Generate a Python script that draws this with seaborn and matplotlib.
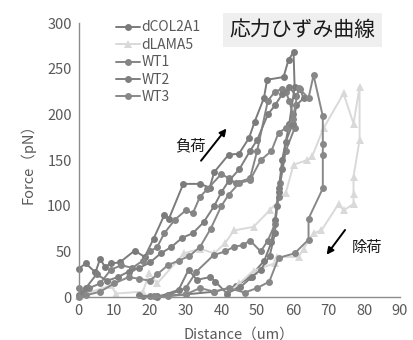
import numpy as np
import pandas as pd
import matplotlib
matplotlib.use("Agg")
from matplotlib import pyplot as plt
import seaborn as sns

# -------------- datos (distancia en um, fuerza en pN)

dcol2a1_x = [0, 2, 4.7, 6, 7.4, 9, 11.5, 15.7, 18.5, 21, 24, 25.3, 29.3, 34, 36.7, 38, 42, 44.9,
             47.7, 49.3, 51.9, 52.8, 57.4, 58.8, 60.2, 60.5, 59, 57, 56, 55, 54, 52, 48, 44, 38, 30, 22, 18]
dcol2a1_y = [31, 37, 27, 42, 33, 37, 38, 51, 44, 64, 90, 86, 124, 124, 120, 137, 156, 157,
             174, 192, 218, 238, 241, 260, 268, 230, 190, 150, 115, 85, 60, 40, 22, 12, 6, 3, 1, 1]

dlama5_x = [0, 9, 10.4, 18, 19.7, 22, 29.5, 34, 38, 41, 43.5, 49, 53.5, 58, 60.2, 64, 65.4, 68.6,
            74.2, 77, 78.7, 78.7, 77, 77, 77, 74.2, 72.8, 68, 65.8, 63, 61.6, 55.6, 54.9, 49, 45, 41.6]
dlama5_y = [1, 13, 4, 6, 26, 15, 48, 53, 48, 59, 73, 77, 95, 114, 145, 150, 154, 185,
            223, 190, 230, 172, 132, 113, 102, 95, 102, 73, 70, 53, 44, 44, 37, 29, 15, 4]

wt1_x = [0, 1, 3, 6, 9, 12, 15, 18, 20, 22, 24, 27, 30, 32, 34, 36, 40, 42, 44, 48, 50, 53, 55,
         57, 58, 59, 60, 60.5, 58, 56.5, 56, 55, 53, 51, 48, 46, 43.4, 41, 37.8, 33, 30, 25, 20]
wt1_y = [10, 5, 10, 15, 30, 35, 32, 40, 50, 55, 70, 85, 95, 92, 110, 118, 135, 130, 125, 130, 160, 215, 225,
         228, 225, 215, 200, 185, 160, 125, 110, 80, 62, 50, 62, 57, 55, 50, 46, 28, 10, 2, 1]

wt2_x = [0, 2, 5, 8, 11, 14, 17, 20, 23, 26, 29, 32, 35, 38, 40, 42, 45, 48, 50, 53, 55, 57, 59,
         61, 62, 63, 61, 60, 58, 57, 56, 55.5, 55, 53.5, 51, 48.5, 45.3, 41.5, 38.3, 36.9, 33.1, 30.8, 28, 22, 17]
wt2_y = [2, 10, 25, 18, 22, 28, 32, 38, 48, 55, 65, 70, 82, 100, 115, 127, 140, 160, 172, 200, 210, 222, 230,
         220, 228, 218, 210, 190, 170, 140, 120, 100, 70, 45, 30, 22, 11, 4, 17, 22, 19, 30, 8, 0, 2]

wt3_x = [0, 2, 6, 10, 14, 17, 20, 22, 25, 28, 31, 34, 37, 40, 42, 45, 48, 51, 54, 56, 58, 60, 61.6,
         64.4, 65.8, 68.4, 68.4, 68.4, 68.4, 64.4, 64.4, 60.5, 56, 53.4, 50, 46.5, 42, 38, 34, 30, 25, 21]
wt3_y = [0, 2, 6, 15, 22, 20, 18, 25, 35, 40, 45, 55, 75, 100, 112, 125, 128, 150, 160, 180, 185, 195, 229,
         218, 243, 198, 168, 156, 119, 86, 63, 48, 43, 17, 10, 5, 10, 6, 10, 3, 1, 1]

series = ["dCOL2A1", "dLAMA5", "WT1", "WT2", "WT3"]
xs = [dcol2a1_x, dlama5_x, wt1_x, wt2_x, wt3_x]
ys = [dcol2a1_y, dlama5_y, wt1_y, wt2_y, wt3_y]
colores = ["#7b7b7b", "#d9d9d9", "#858585", "#7f7f7f", "#888888"]
marcas = ["o", "^", "o", "o", "o"]

# -------------- grafica

sns.set_style("white")
plt.rcParams["font.family"] = ["Noto Sans CJK JP", "DejaVu Sans"]

fig = plt.figure(figsize=(4.14, 3.4), dpi=100)
ax = fig.add_axes([0.19, 0.126, 0.776, 0.806])

for nombre, x, y, c, m in zip(series, xs, ys, colores, marcas):
    df = pd.DataFrame({"Distance": x, "Force": y})
    sns.lineplot(data=df, x="Distance", y="Force", sort=False, estimator=None,
                 color=c, marker=m, markersize=5.5 if m == "^" else 5,
                 markeredgewidth=0, linewidth=1.4, label=nombre, ax=ax, clip_on=False)

ax.set_xlim(0, 90)
ax.set_ylim(0, 300)
ax.set_xticks(np.arange(0, 91, 10))
ax.set_yticks(np.arange(0, 301, 50))
for lado in ["top", "right"]:
    ax.spines[lado].set_visible(False)
for lado in ["left", "bottom"]:
    ax.spines[lado].set_color("#8c8c8c")
    ax.spines[lado].set_linewidth(1)
ax.tick_params(direction="in", length=4, color="#8c8c8c", labelcolor="#595959", labelsize=10.5, pad=5)
ax.set_xlabel("Distance（um）", color="#595959", fontsize=10.5, va="center")
ax.xaxis.set_label_coords(0.5, -0.135)
ax.set_ylabel("Force（pN）", color="#595959", fontsize=10.5, labelpad=8)

leg = ax.legend(loc="upper left", bbox_to_anchor=(0.1, 1.03), frameon=False, fontsize=10,
                handlelength=1.7, handletextpad=0.1, labelspacing=0.25, borderaxespad=0)
for t in leg.get_texts():
    t.set_color("#595959")

fig.text(0.73, 0.912, "応力ひずみ曲線", fontsize=15, ha="center", va="center", color="#1a1a1a",
         bbox=dict(boxstyle="square,pad=0.3", facecolor="#efefef", edgecolor="none"))

ax.annotate("", xy=(41.9, 187), xytext=(33.8, 147),
            arrowprops=dict(arrowstyle="-|>", color="black", lw=1.4, mutation_scale=10))
ax.text(31.3, 166, "負荷", fontsize=11, ha="center", va="center", color="#1a1a1a")
ax.annotate("", xy=(69, 44), xytext=(75.1, 76),
            arrowprops=dict(arrowstyle="-|>", color="black", lw=1.4, mutation_scale=10))
ax.text(80.7, 54, "除荷", fontsize=11, ha="center", va="center", color="#1a1a1a")

fig.savefig("out.png", dpi=100)
